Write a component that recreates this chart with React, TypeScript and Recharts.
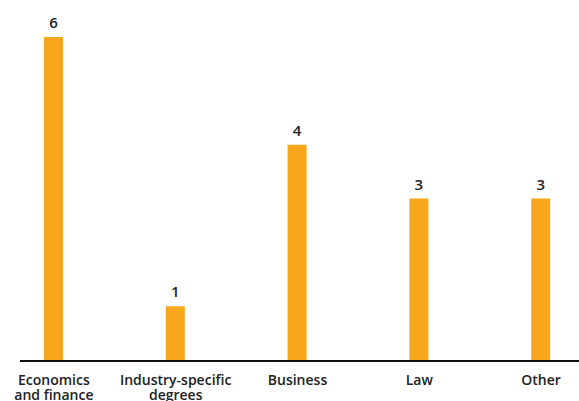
import { BarChart, Bar, XAxis, YAxis, LabelList, ReferenceLine } from 'recharts';

const categories = ['Economics and finance', 'Industry-specific degrees', 'Business', 'Law', 'Other'];
const tickLines = [['Economics', 'and finance'], ['Industry-specific', 'degrees'], ['Business'], ['Law'], ['Other']];
const counts = [6, 1, 4, 3, 3];

const data = categories.map((name, i) => ({ name, value: counts[i] }));

const BAR_COLOR = '#F8A61C';
const TEXT_COLOR = '#222222';
const FONT = '"Open Sans", "Noto Sans", sans-serif';

const CategoryTick = ({ x, y, index }: any) => {
  const lines = tickLines[index] || [];
  return (
    <text x={x} y={y} textAnchor="middle" fill={TEXT_COLOR} fontFamily={FONT} fontSize={14} fontWeight={600}>
      {lines.map((line, i) => (
        <tspan key={i} x={x} dy={i === 0 ? 17 : 15}>
          {line}
        </tspan>
      ))}
    </text>
  );
};

const BaseLine = (props: any) => (
  <line x1={20} y1={props.y1 + 1} x2={props.x2 + 40} y2={props.y2 + 1} stroke="#111111" strokeWidth={2} />
);

const App = () => {
  return (
    <div style={{ position: 'absolute', left: 0, top: 0, width: 579, height: 401, overflow: 'hidden', background: '#fff' }}>
      <BarChart
        width={579}
        height={401}
        data={data}
        margin={{ top: 37, right: -23, left: -7, bottom: 0 }}
        barCategoryGap={0}
      >
        <XAxis dataKey="name" axisLine={false} tickLine={false} tick={<CategoryTick />} interval={0} height={41} />
        <YAxis hide domain={[0, 6]} />
        <ReferenceLine y={0} shape={<BaseLine />} />
        <Bar dataKey="value" fill={BAR_COLOR} barSize={19} isAnimationActive={false}>
          <LabelList
            dataKey="value"
            position="top"
            offset={9}
            fill={TEXT_COLOR}
            fontFamily={FONT}
            fontSize={15}
            fontWeight={600}
          />
        </Bar>
      </BarChart>
    </div>
  );
};

export default App;
